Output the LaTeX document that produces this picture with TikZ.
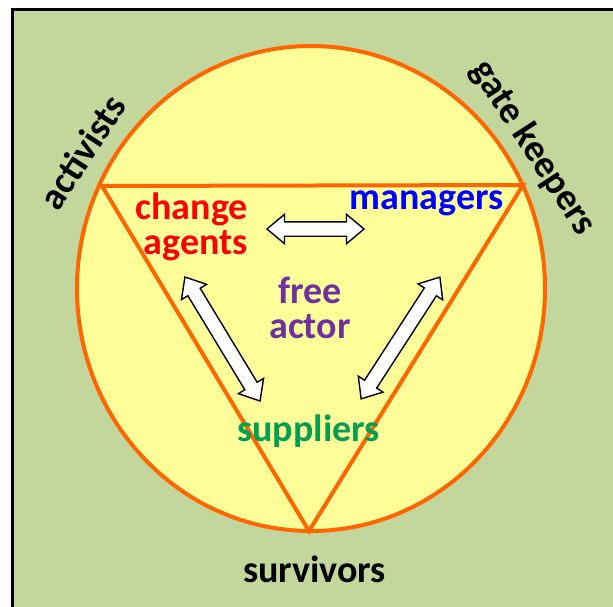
\documentclass[tikz,border=0pt]{standalone}
\usepackage{fontspec}
\setmainfont{Carlito}
\usetikzlibrary{shapes.arrows}
\definecolor{bggreen}{HTML}{C3D69B}
\definecolor{paleyellow}{HTML}{FFFF99}
\definecolor{rimorange}{HTML}{FF6600}
\definecolor{actorpurple}{HTML}{7030A0}
\definecolor{supplygreen}{HTML}{00A050}
\begin{document}
\begin{tikzpicture}[x=1pt,y=-1pt,
  txt/.style={font=\fontsize{38}{35}\selectfont\bfseries, inner sep=0pt},
  dblarrow/.style={draw=black, fill=white, line width=1.4pt, shape=double arrow,
    double arrow head extend=7.5pt, double arrow tip angle=80,
    inner xsep=0pt, inner ysep=6.5pt, minimum width=28pt},
  rim/.style={draw=rimorange, line width=4pt}]
\useasboundingbox (0,0) rectangle (613,606);
\clip (0,0) rectangle (613,606);
% framed green field
\draw[fill=bggreen, line width=3pt] (12,9) rectangle (640,640);
% yellow disc and inscribed triangle
\draw[rim, fill=paleyellow] (311,288.5) ellipse [x radius=234pt, y radius=242.5pt];
\coordinate (tl) at (102,186);
\coordinate (tr) at (523,185);
\coordinate (bt) at (309,531);
\draw[rim, line join=miter] (tl) -- (tr) -- (bt) -- cycle;
% labels (two-line nodes are placed by their last baseline)
\node[txt, text=red, align=right, anchor=base east] (change) at (248,254) {change\\agents};
\node[txt, text=blue, anchor=base] (managers) at (426.5,209) {managers};
\node[txt, text=actorpurple, align=center, anchor=base] (free) at (310,338) {free\\actor};
\node[txt, text=supplygreen, anchor=base] (suppliers) at (308.5,441) {suppliers};
\node[txt, anchor=base] (survivors) at (314.5,582) {survivors};
\node[txt, rotate=57] (activists) at (82,152) {activists};
\node[txt, rotate=-57] (gate) at (533,148) {gate keepers};
% two-way block arrows
\node[dblarrow, minimum height=97pt] (arrCM) at (315.5,229) {};
\node[dblarrow, minimum height=145pt, rotate=-58.8] (arrCS) at (222.5,339) {};
\node[dblarrow, minimum height=145pt, rotate=57.1] (arrMS) at (400.5,338) {};
\end{tikzpicture}
\end{document}
